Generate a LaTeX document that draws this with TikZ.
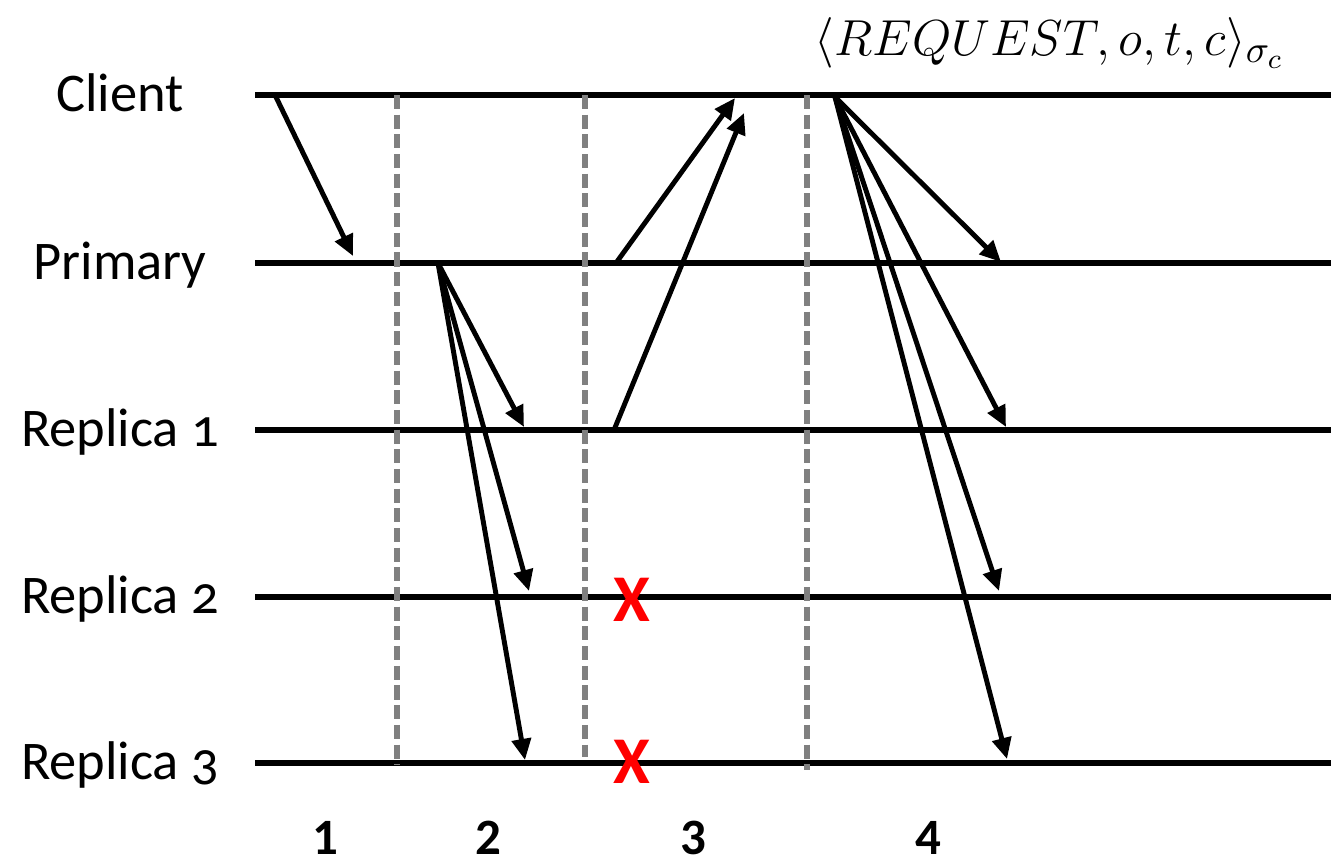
\documentclass[tikz,border=0pt]{standalone}
\usepackage{fontspec}
\setmainfont{Carlito}
\newfontfamily\lblfont[Numbers=OldStyle]{Carlito}
\usetikzlibrary{arrows.meta}

\begin{document}
\begin{tikzpicture}[x=1cm,y=-1cm,
  lane/.style={line width=1.5pt},
  msg/.style={line width=1.4pt,-{Triangle[length=6pt,width=5.4pt]}},
  sep/.style={line width=1.5pt,gray,dash pattern=on 4pt off 1.6pt},
  lbl/.style={font=\lblfont\fontsize{15.5}{18}\selectfont,anchor=base,inner sep=0pt},
  phase/.style={font=\bfseries\fontsize{14.5}{17}\selectfont,anchor=base,inner sep=0pt},
  fail/.style={font=\bfseries\fontsize{19}{22}\selectfont,text=red,inner sep=0pt}]
  \useasboundingbox (0,0) rectangle (13.31,8.63);
  % lanes (one per process)
  \foreach \n/\y/\t in {cl/0.95/Client,pr/2.63/Primary,ra/4.30/Replica 1,rb/5.97/Replica 2,rc/7.63/Replica 3}{
    \node[lbl] (\n) at (1.2,\y+0.16) {\t};
    \coordinate (\n-s) at (2.55,\y);
    \coordinate (\n-e) at (13.31,\y);
    \draw[lane] (\n-s) -- (\n-e);
  }
  % phase separators
  \foreach \s/\x/\b in {da/3.97/7.65,db/5.85/7.57,dc/8.07/7.70}{
    \coordinate (\s-t) at (\x,0.95);
    \coordinate (\s-b) at (\x,\b);
    \draw[sep] (\s-t) -- (\s-b);
  }
  % 1: request to primary
  \coordinate (q0) at (2.75,0.95);
  \coordinate (q1) at (3.53,2.56);
  \draw[msg] (q0) -- (q1);
  % 2: primary forwards
  \coordinate (pp) at (4.38,2.63);
  \foreach \t/\x/\y in {ta/5.24/4.27,tb/5.29/5.91,tc/5.25/7.60}{
    \coordinate (\t) at (\x,\y);
    \draw[msg] (pp) -- (\t);
  }
  % 3: replies (replica 2, 3 fail)
  \coordinate (ya) at (6.16,2.63);
  \coordinate (yb) at (6.14,4.30);
  \coordinate (za) at (7.35,0.98);
  \coordinate (zb) at (7.44,1.13);
  \draw[msg] (ya) -- (za);
  \draw[msg] (yb) -- (zb);
  \node[fail] (xb) at (6.32,6.00) {X};
  \node[fail] (xc) at (6.32,7.62) {X};
  % 4: client broadcasts signed request
  \node[anchor=base west,inner sep=0pt,font=\fontsize{15.8}{19}\selectfont] (sig) at (8.14,0.55)
    {$\langle REQUEST, o, t, c\rangle_{\sigma_c}$};
  \coordinate (cq) at (8.35,0.97);
  \foreach \t/\x/\y in {wa/10.01/2.62,wb/10.06/4.27,wc/9.99/5.91,wd/10.07/7.59}{
    \coordinate (\t) at (\x,\y);
    \draw[msg] (cq) -- (\t);
  }
  % phase numbers
  \node[phase] (n1) at (3.25,8.54) {1};
  \node[phase] (n2) at (4.88,8.54) {2};
  \node[phase] (n3) at (6.93,8.54) {3};
  \node[phase] (n4) at (9.28,8.54) {4};
\end{tikzpicture}
\end{document}
